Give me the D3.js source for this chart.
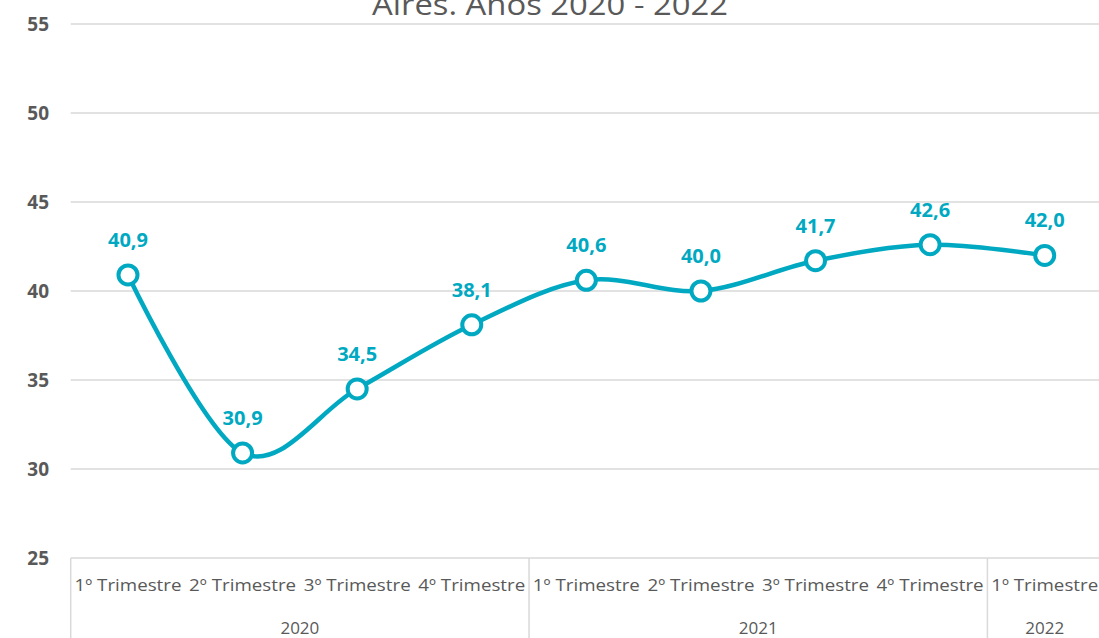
<!DOCTYPE html>
<html>
<head>
<meta charset="utf-8">
<script src="https://cdn.jsdelivr.net/npm/d3@7"></script>
<style>
  html, body { margin: 0; padding: 0; background: #fff; overflow: hidden; }
  svg { display: block; font-family: "Open Sans", "Noto Sans", sans-serif; }
</style>
</head>
<body>
<div id="chart"></div>
<script>
// Quarterly series, 2020 – 2022
const quarters = ['1º Trimestre', '2º Trimestre', '3º Trimestre', '4º Trimestre',
                  '1º Trimestre', '2º Trimestre', '3º Trimestre', '4º Trimestre',
                  '1º Trimestre'];
const years    = ['2020', '2020', '2020', '2020', '2021', '2021', '2021', '2021', '2022'];
const values   = [40.9, 30.9, 34.5, 38.1, 40.6, 40.0, 41.7, 42.6, 42.0];
const yTicks   = [25, 30, 35, 40, 45, 50, 55];
const title    = 'Aires. Años 2020 - 2022';

const W = 1099, H = 638;
const plotL = 70.7, plotR = 1102, plotT = 24, plotB = 558;
const teal = '#00a9c1', grey = '#595959', gridC = '#d9d9d9';

const svg = d3.select('#chart').append('svg')
  .attr('width', W).attr('height', H);

const idx = d3.range(values.length);
const x = d3.scaleBand().domain(idx).range([plotL, plotR]);
const cx = i => x(i) + x.bandwidth() / 2;
const y = d3.scaleLinear().domain([25, 55]).range([plotB, plotT]);

// Title (upper part is clipped off the top of the picture, as in the source)
svg.append('text')
  .attr('x', 550).attr('y', 15)
  .attr('text-anchor', 'middle')
  .attr('fill', grey)
  .attr('font-size', 29)
  .attr('textLength', 356)
  .attr('lengthAdjust', 'spacingAndGlyphs')
  .text(title);

// Gridlines
svg.append('g').selectAll('line')
  .data(yTicks)
  .join('line')
  .attr('x1', plotL).attr('x2', W)
  .attr('y1', d => y(d)).attr('y2', d => y(d))
  .attr('stroke', gridC)
  .attr('stroke-width', 1.5);

// Y tick labels
svg.append('g').selectAll('text')
  .data(yTicks)
  .join('text')
  .attr('x', 49).attr('y', d => y(d))
  .attr('dy', '0.35em')
  .attr('text-anchor', 'end')
  .attr('fill', grey)
  .attr('font-size', 19)
  .attr('font-weight', 'bold')
  .text(d => d);

// Multi-level category axis: group separators
const groups = d3.groups(idx, i => years[i]).map(([yr, is]) => ({ yr, first: is[0], last: is[is.length - 1] }));
const seps = [plotL, ...groups.map(g => x(g.last) + x.bandwidth())];
svg.append('g').selectAll('line')
  .data(seps)
  .join('line')
  .attr('x1', d => d).attr('x2', d => d)
  .attr('y1', plotB).attr('y2', H)
  .attr('stroke', gridC)
  .attr('stroke-width', 1.5);

svg.append('g').selectAll('text')
  .data(idx)
  .join('text')
  .attr('x', i => cx(i)).attr('y', 585)
  .attr('dy', '0.35em')
  .attr('text-anchor', 'middle')
  .attr('fill', grey)
  .attr('font-size', 17)
  .attr('textLength', 107)
  .attr('lengthAdjust', 'spacingAndGlyphs')
  .text(i => quarters[i]);

svg.append('g').selectAll('text')
  .data(groups)
  .join('text')
  .attr('x', g => (x(g.first) + x(g.last) + x.bandwidth()) / 2).attr('y', 628)
  .attr('dy', '0.35em')
  .attr('text-anchor', 'middle')
  .attr('fill', grey)
  .attr('font-size', 17)
  .text(g => g.yr);

// Smoothed line
const line = d3.line()
  .x(i => cx(i))
  .y(i => y(values[i]))
  .curve(d3.curveCatmullRom.alpha(0));

svg.append('path')
  .datum(idx)
  .attr('d', line)
  .attr('fill', 'none')
  .attr('stroke', teal)
  .attr('stroke-width', 4.5)
  .attr('stroke-linejoin', 'round');

// Markers
svg.append('g').selectAll('circle')
  .data(idx)
  .join('circle')
  .attr('cx', i => cx(i)).attr('cy', i => y(values[i]))
  .attr('r', 9.5)
  .attr('fill', '#fff')
  .attr('stroke', teal)
  .attr('stroke-width', 4);

// Data labels
const fmt = v => d3.format('.1f')(v).replace('.', ',');
svg.append('g').selectAll('text')
  .data(idx)
  .join('text')
  .attr('x', i => cx(i)).attr('y', i => y(values[i]) - 35)
  .attr('dy', '0.35em')
  .attr('text-anchor', 'middle')
  .attr('fill', teal)
  .attr('font-size', 20)
  .attr('font-weight', 'bold')
  .text(i => fmt(values[i]));
</script>
</body>
</html>
